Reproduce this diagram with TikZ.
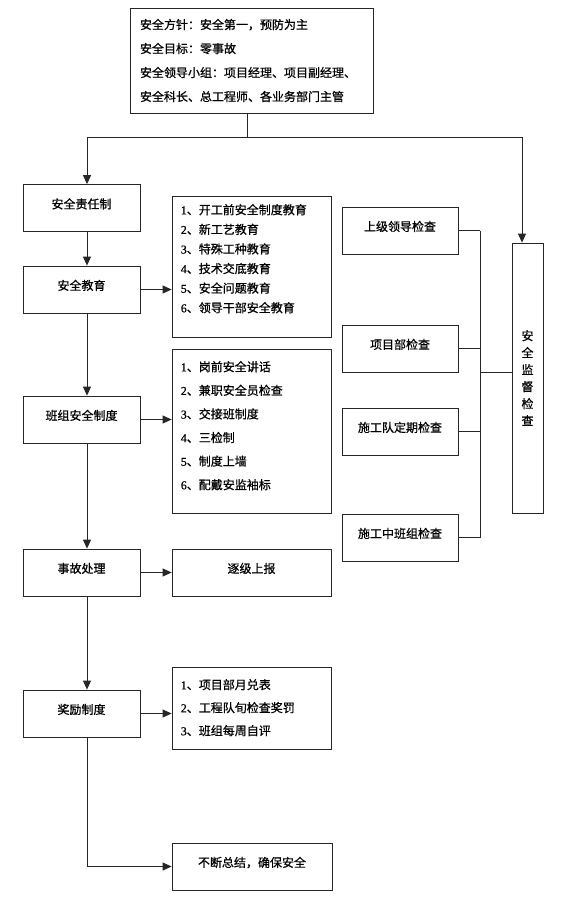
\documentclass[tikz,border=0pt]{standalone}
\usepackage{fontspec}
\setmainfont{Noto Sans CJK SC}[FakeBold=0.8]
\newfontfamily\latin{Liberation Serif}[FakeBold=0.8]
\usetikzlibrary{arrows.meta}
\newcommand\itemno[1]{{\latin #1}、}

\begin{document}
\begin{tikzpicture}[x=1pt,y=-1pt,font=\fontsize{12}{14}\selectfont,
    box/.style={draw=black!85,line width=0.8pt,inner sep=0pt,minimum width=117pt,minimum height=47pt},
    cbox/.style={box,text height=10pt,text depth=9pt},
    listtext/.style={anchor=north west,align=left,inner sep=0pt},
    link/.style={draw=black!85,line width=0.8pt},
    flow/.style={link,-{Triangle[length=9pt,width=8pt]}}]
    \useasboundingbox (0,0) rectangle (564,906);
    % Top
    \node[box,minimum width=243pt,minimum height=105pt,text width=223pt,align=left,
      font=\fontsize{12}{24}\selectfont] (policy) at (251.5,60.5)
      {安全方针：安全第一，预防为主\\安全目标：零事故\\安全领导小组：项目经理、项目副经理、\\安全科长、总工程师、各业务部门主管};
    \coordinate (stem) at (247,137);
    \coordinate (lcol) at (87,137);
    \coordinate (rcol) at (522,137);
    \coordinate (bus) at (480,372);
    % Left column
    \node[cbox] (resp) at (81.5,208) {安全责任制};
    \node[cbox] (edu) at (81.5,289.5) {安全教育};
    \node[cbox] (team) at (81.5,419.5) {班组安全制度};
    \node[cbox] (accid) at (81.5,572.5) {事故处理};
    \node[cbox] (award) at (81.5,713.5) {奖励制度};
    % Middle column
    \node[box,minimum width=159pt,minimum height=141pt] (edulist) at (251.5,266.5) {};
    \node[listtext,font=\fontsize{12}{19.6}\selectfont] at ([xshift=9pt,yshift=-8.3pt]edulist.north west)
      {\itemno{1}开工前安全制度教育\\\itemno{2}新工艺教育\\\itemno{3}特殊工种教育\\\itemno{4}技术交底教育\\\itemno{5}安全问题教育\\\itemno{6}领导干部安全教育};
    \node[box,minimum width=159pt,minimum height=164pt] (teamlist) at (251.5,431) {};
    \node[listtext,font=\fontsize{12}{23.6}\selectfont] at ([xshift=9pt,yshift=-12.3pt]teamlist.north west)
      {\itemno{1}岗前安全讲话\\\itemno{2}兼职安全员检查\\\itemno{3}交接班制度\\\itemno{4}三检制\\\itemno{5}制度上墙\\\itemno{6}配戴安监袖标};
    \node[cbox,minimum width=159pt] (report) at (251.5,572.5) {逐级上报};
    \node[box,minimum width=159pt,minimum height=82pt] (awardlist) at (251.5,708) {};
    \node[listtext,font=\fontsize{12}{23}\selectfont] at ([xshift=9pt,yshift=-12.3pt]awardlist.north west)
      {\itemno{1}项目部月兑表\\\itemno{2}工程队旬检查奖罚\\\itemno{3}班组每周自评};
    \node[cbox,minimum width=160pt] (final) at (252,866.5) {不断总结，确保安全};
    % Right column
    \node[cbox,minimum width=116pt] (lead) at (400,230.5) {上级领导检查};
    \node[cbox,minimum width=116pt] (dept) at (400,348.5) {项目部检查};
    \node[cbox,minimum width=116pt] (crew) at (400,431.5) {施工队定期检查};
    \node[cbox,minimum width=116pt] (site) at (400,537.5) {施工中班组检查};
    \node[box,minimum width=31pt,minimum height=270pt,align=center,
      font=\fontsize{12}{17}\selectfont] (check) at (527.5,378) {安\\全\\监\\督\\检\\查};
    % Connectors
    \draw[link] (policy.south -| stem) -- (stem);
    \draw[link] (lcol) -- (rcol);
    \draw[flow] (lcol) -- (resp.north -| lcol);
    \draw[flow] (rcol) -- (check.north -| rcol);
    \draw[flow] (resp.south -| lcol) -- (edu.north -| lcol);
    \draw[flow] (edu.south -| lcol) -- (team.north -| lcol);
    \draw[flow] (team.south -| lcol) -- (accid.north -| lcol);
    \draw[flow] (accid.south -| lcol) -- (award.north -| lcol);
    \draw[flow] (award.south -| lcol) |- (final.west);
    \draw[flow] (edu.east) -- (edu.east -| edulist.west);
    \draw[flow] (team.east) -- (team.east -| teamlist.west);
    \draw[flow] (accid.east) -- (report.west);
    \draw[flow] (award.east) -- (award.east -| awardlist.west);
    \foreach \n in {lead,dept,crew,site}
      \draw[link] (\n.east) -- (\n.east -| bus);
    \draw[link] (lead.east -| bus) -- (site.east -| bus);
    \draw[link] (bus) -- (bus -| check.west);
\end{tikzpicture}
\end{document}
